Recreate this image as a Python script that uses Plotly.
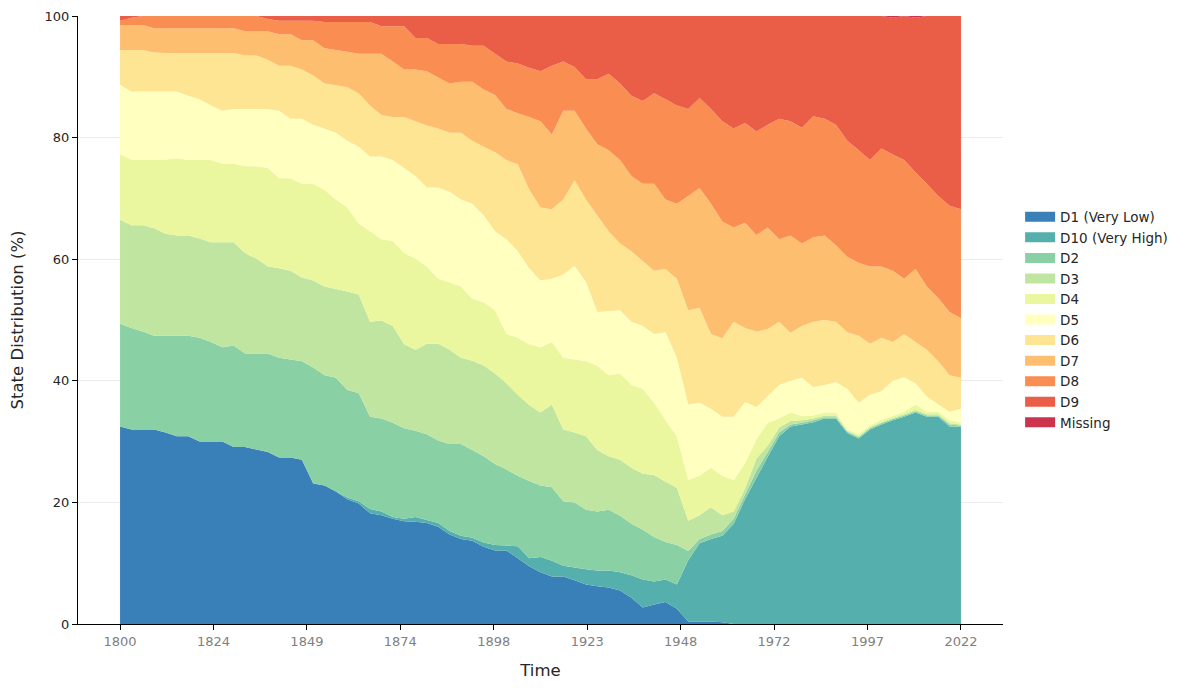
import numpy as np
import plotly.graph_objects as go

years = list(range(1800, 2023, 3))

d1 = [32.5, 32.0, 32.0, 32.0, 31.5, 30.9, 30.9, 30.0, 30.0, 30.0, 29.1, 29.1, 28.7, 28.3, 27.4, 27.4, 27.0, 23.1, 22.8,
      21.8, 20.5, 19.8, 18.2, 17.9, 17.3, 16.9, 16.8, 16.6, 16.0, 14.7, 14.0, 13.7, 12.7, 12.1, 12.1, 10.8, 9.5,
      8.5, 7.8, 7.8, 7.2, 6.5, 6.2, 6.0, 5.5, 4.3, 2.7, 3.2, 3.6, 2.5, 0.4, 0.4, 0.4, 0.3, 0.0,
      0, 0, 0, 0, 0, 0, 0, 0, 0, 0, 0, 0, 0, 0, 0, 0, 0, 0, 0, 0]
d10 = [0, 0, 0, 0, 0, 0, 0, 0, 0, 0, 0, 0, 0, 0, 0, 0, 0, 0, 0,
       0, 0.3, 0.4, 0.7, 0.6, 0.3, 0.4, 0.8, 0.5, 0.6, 0.6, 0.5, 0.5, 0.7, 0.9, 0.8, 2.0, 1.3,
       2.5, 2.6, 1.8, 2.1, 2.5, 2.6, 2.8, 3.0, 3.7, 4.6, 3.8, 3.7, 4.0, 10.1, 12.9, 13.6, 14.2, 16.5,
       20.5, 24.0, 27.5, 30.9, 32.5, 32.8, 33.2, 33.8, 33.8, 31.4, 30.5, 32.0, 32.8, 33.5, 34.1, 34.8, 34.1, 34.1, 32.5, 32.4]
d2 = [16.9, 16.7, 16.1, 15.4, 15.9, 16.5, 16.5, 17.1, 16.4, 15.5, 16.7, 15.4, 15.8, 16.2, 16.4, 16.1, 16.2, 19.1, 18.1,
      18.7, 17.7, 17.8, 15.2, 15.3, 15.5, 14.9, 14.2, 14.1, 13.6, 14.3, 15.1, 14.4, 14.2, 13.3, 12.5, 11.6, 12.7,
      11.8, 12.1, 10.6, 10.7, 9.8, 9.7, 10.0, 9.3, 8.5, 8.2, 7.3, 6.2, 6.5, 1.5, 0.7, 0.7, 0.8, 0.8,
      0.8, 1.2, 0.8, 0.6, 0.3, 0.3, 0.3, 0.2, 0.2, 0.2, 0.2, 0.2, 0.2, 0.2, 0.2, 0.2, 0.2, 0.2, 0.3, 0.2]
d3 = [17.1, 16.9, 17.5, 17.7, 16.8, 16.5, 16.5, 16.3, 16.4, 17.3, 17.0, 16.5, 15.6, 14.3, 14.7, 14.6, 13.8, 14.3, 14.6,
      14.6, 16.2, 16.2, 15.6, 16.1, 15.9, 13.8, 13.3, 14.9, 15.9, 15.5, 14.2, 14.7, 14.9, 14.9, 14.2, 13.3, 12.5,
      12.0, 13.6, 11.8, 11.5, 12.1, 10.1, 8.8, 9.2, 9.2, 9.2, 10.2, 9.9, 9.4, 5.0, 3.9, 4.5, 2.6, 1.2,
      1.0, 2.0, 1.0, 0.8, 0.6, 0.4, 0.3, 0.3, 0.3, 0.2, 0.2, 0.2, 0.2, 0.2, 0.2, 0.2, 0.2, 0.2, 0.2, 0.2]
d4 = [10.7, 10.8, 10.8, 11.3, 12.2, 12.7, 12.4, 12.9, 13.5, 12.9, 12.9, 14.3, 15.2, 16.2, 14.8, 15.2, 15.4, 15.9, 15.9,
      14.7, 13.8, 11.7, 14.9, 13.4, 14.0, 15.0, 15.0, 12.7, 10.7, 11.1, 11.7, 10.2, 10.4, 10.4, 8.1, 9.4, 10.0,
      10.7, 10.3, 11.8, 12.0, 12.3, 13.9, 13.3, 14.2, 13.6, 14.0, 11.9, 10.1, 8.5, 6.7, 6.5, 6.5, 6.5, 5.2,
      4.2, 3.2, 3.8, 1.5, 1.4, 0.7, 0.5, 0.5, 0.5, 0.2, 0.3, 0.3, 0.4, 0.3, 0.4, 0.9, 0.4, 0.4, 0.5, 0.3]
d5 = [11.5, 11.2, 11.2, 11.2, 11.2, 11.0, 10.6, 10.0, 9.0, 8.7, 9.0, 9.4, 9.4, 9.7, 11.1, 9.8, 10.7, 9.7, 10.1,
      11.0, 11.0, 12.6, 12.3, 13.6, 13.3, 14.0, 13.6, 13.0, 15.0, 14.9, 14.3, 15.6, 14.3, 13.0, 15.6, 14.2, 12.5,
      11.0, 10.4, 13.7, 15.4, 13.1, 8.8, 10.6, 10.4, 10.4, 10.3, 11.3, 14.5, 12.9, 12.4, 12.0, 9.7, 9.7, 10.4,
      10.0, 5.3, 4.4, 5.5, 5.2, 6.3, 4.7, 4.5, 5.0, 6.7, 5.2, 5.0, 4.7, 5.8, 5.7, 3.5, 2.5, 1.2, 1.4, 2.3]
d6 = [5.7, 6.8, 6.8, 6.4, 6.3, 6.3, 7.0, 7.6, 8.6, 9.5, 9.2, 8.8, 8.8, 8.1, 7.4, 8.7, 8.1, 8.1, 7.4,
      7.8, 8.8, 8.8, 8.4, 6.8, 7.1, 8.4, 9.0, 10.2, 9.7, 9.7, 11.0, 10.4, 11.3, 13.0, 13.0, 14.3, 13.0,
      12.0, 11.4, 12.3, 14.1, 13.5, 15.9, 13.1, 11.0, 11.6, 10.7, 10.4, 10.4, 13.0, 15.5, 15.6, 12.3, 12.9, 15.6,
      12.2, 12.4, 11.0, 10.4, 7.9, 8.5, 10.7, 10.7, 9.9, 9.3, 11.0, 8.4, 8.8, 6.4, 7.1, 6.8, 7.7, 7.1, 6.0, 5.1]
d7 = [4.1, 4.1, 4.1, 4.0, 4.1, 4.1, 4.1, 4.1, 4.1, 4.1, 4.1, 4.0, 4.0, 4.7, 5.2, 5.2, 4.8, 5.8, 5.8,
      5.8, 5.8, 6.5, 8.5, 10.1, 9.1, 7.8, 8.5, 8.9, 8.4, 8.1, 8.4, 9.7, 9.4, 9.4, 8.4, 8.4, 11.9,
      14.2, 12.3, 14.6, 11.4, 11.7, 11.7, 13.3, 13.7, 12.4, 12.7, 14.3, 11.4, 12.3, 18.8, 19.7, 21.4, 19.2, 15.5,
      17.3, 15.9, 16.7, 13.6, 16.0, 13.6, 13.9, 13.9, 12.6, 12.4, 12.0, 12.7, 11.7, 11.7, 9.1, 12.0, 10.4, 10.4, 10.4, 9.8]
d8 = [0.7, 1.2, 1.5, 2.0, 2.0, 2.0, 2.0, 2.0, 2.0, 2.0, 2.0, 2.5, 2.5, 2.0, 2.2, 2.2, 3.2, 3.2, 4.3,
      4.6, 4.9, 5.2, 5.2, 4.5, 5.8, 7.1, 5.2, 5.5, 5.5, 6.5, 6.2, 5.9, 7.2, 6.8, 7.8, 8.2, 8.1,
      8.2, 11.3, 8.1, 7.2, 8.1, 10.7, 12.6, 12.6, 13.2, 13.6, 14.9, 16.5, 16.2, 14.3, 14.8, 15.6, 16.5, 16.3,
      16.4, 17.0, 16.9, 19.8, 18.8, 19.0, 19.9, 19.2, 19.8, 19.1, 18.5, 17.5, 19.4, 19.1, 19.5, 15.9, 16.9, 16.8, 17.5, 17.9]
d9 = [0.8, 0.3, 0, 0, 0, 0, 0, 0, 0, 0, 0, 0, 0, 0.5, 0.8, 0.8, 0.8, 0.8, 1.0,
      1.0, 1.0, 1.0, 1.0, 1.7, 1.7, 1.7, 3.6, 3.6, 4.6, 4.6, 4.6, 4.9, 4.9, 6.2, 7.5, 7.8, 8.5,
      9.1, 8.2, 7.5, 8.4, 10.4, 10.4, 9.5, 11.1, 13.1, 14.0, 12.7, 13.7, 14.7, 15.3, 13.5, 15.3, 17.3, 18.5,
      17.6, 19.0, 17.9, 16.9, 17.3, 18.4, 16.5, 16.9, 17.9, 20.5, 22.1, 23.7, 21.8, 22.5, 23.7, 25.4, 27.6, 29.6, 31.2, 31.8]
missing = [0] * 68 + [0.3, 0, 0.3, 0, 0, 0, 0]

series_names = ["D1 (Very Low)", "D10 (Very High)", "D2", "D3", "D4", "D5", "D6", "D7", "D8", "D9", "Missing"]
series_values = [d1, d10, d2, d3, d4, d5, d6, d7, d8, d9, missing]
colors = ["#397fb8", "#55afad", "#89d0a4", "#bfe5a0", "#eaf79f", "#ffffbf",
          "#fee594", "#fdbe6f", "#f98d52", "#ea5d47", "#cc344d"]

xtick_vals = list(np.linspace(1800, 2022, 10))
xtick_text = [str(int(v)) for v in xtick_vals]

fig = go.Figure()
for name, vals, col in zip(series_names, series_values, colors):
    fig.add_trace(go.Scatter(
        x=years, y=vals, name=name, mode="none", stackgroup="one",
        groupnorm="percent" if name == series_names[0] else None,
        fillcolor=col, line=dict(width=0), showlegend=False,
    ))
# legend entries (rectangular swatches like the reference)
for name, col in zip(series_names, colors):
    fig.add_trace(go.Scatter(
        x=[None], y=[None], name=name, mode="lines",
        line=dict(color=col, width=10), showlegend=True, hoverinfo="skip",
    ))

span = 2022 - 1800
fig.update_layout(
    width=1189, height=690,
    margin=dict(l=78, r=186, t=16, b=66),
    paper_bgcolor="white", plot_bgcolor="white",
    font=dict(family="DejaVu Sans", size=13, color="#262626"),
    showlegend=True,
    legend=dict(x=1.0185, xanchor="left", y=0.5, yanchor="middle",
                traceorder="normal", font=dict(size=13.5, color="#262626"),
                bgcolor="rgba(0,0,0,0)"),
    xaxis=dict(
        range=[1800 - 0.05 * span, 2022 + 0.05 * span],
        tickmode="array", tickvals=xtick_vals, ticktext=xtick_text,
        ticks="outside", ticklen=5, tickcolor="black",
        tickfont=dict(size=13, color="#808080"),
        showline=True, linecolor="black", linewidth=1,
        showgrid=False, zeroline=False, automargin=False,
        title=dict(text="Time", font=dict(size=16.5, color="#262626"), standoff=16),
    ),
    yaxis=dict(
        range=[0, 100], tickvals=[0, 20, 40, 60, 80, 100],
        ticks="outside", ticklen=5, tickcolor="black",
        tickfont=dict(size=13, color="#262626"),
        showline=True, linecolor="black", linewidth=1,
        showgrid=True, gridcolor="#ebebeb", gridwidth=0.8, zeroline=False,
        automargin=False,
        title=dict(text="State Distribution (%)", font=dict(size=16.5, color="#262626"), standoff=16),
    ),
)

fig.write_html("out.html")
